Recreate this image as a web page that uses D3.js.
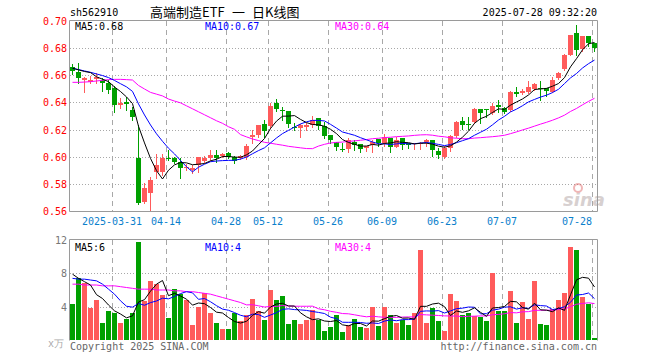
<!DOCTYPE html>
<html>
<head>
<meta charset="utf-8">
<script src="https://cdn.jsdelivr.net/npm/d3@7/dist/d3.min.js"></script>
<style>
    body { margin: 0; background: #fff; }
    svg { display: block; }
    text { font-family: "DejaVu Sans Mono", monospace; font-size: 10px; }
</style>
</head>
<body>
<div id="chart"></div>
<script>
// 交易日
const dates = [
    "2025-03-20","2025-03-21","2025-03-24","2025-03-25","2025-03-26","2025-03-27","2025-03-28","2025-03-31",
    "2025-04-01","2025-04-02","2025-04-03","2025-04-07","2025-04-08","2025-04-09","2025-04-10","2025-04-11",
    "2025-04-14","2025-04-15","2025-04-16","2025-04-17","2025-04-18","2025-04-21","2025-04-22","2025-04-23",
    "2025-04-24","2025-04-25","2025-04-28","2025-04-29","2025-04-30",
    "2025-05-06","2025-05-07","2025-05-08","2025-05-09","2025-05-12","2025-05-13","2025-05-14","2025-05-15",
    "2025-05-16","2025-05-19","2025-05-20","2025-05-21","2025-05-22","2025-05-23","2025-05-26","2025-05-27",
    "2025-05-28","2025-05-29","2025-05-30",
    "2025-06-03","2025-06-04","2025-06-05","2025-06-06","2025-06-09","2025-06-10","2025-06-11","2025-06-12",
    "2025-06-13","2025-06-16","2025-06-17","2025-06-18","2025-06-19","2025-06-20","2025-06-23","2025-06-24",
    "2025-06-25","2025-06-26","2025-06-27","2025-06-30",
    "2025-07-01","2025-07-02","2025-07-03","2025-07-04","2025-07-07","2025-07-08","2025-07-09","2025-07-10",
    "2025-07-11","2025-07-14","2025-07-15","2025-07-16","2025-07-17","2025-07-18","2025-07-21","2025-07-22",
    "2025-07-23","2025-07-24","2025-07-25","2025-07-28"
];

const open = [
    .6660,.6626,.6565,.6553,.6573,.6565,.6541,.6509,.6381,.6406,
    .6344,.5993,.5664,.5730,.5890,.5890,.5993,.5993,.5959,.5915,
    .5902,.5939,.5968,.5993,.6013,.6003,.6025,.6000,.5988,.5996,
    .6143,.6160,.6239,.6226,.6398,.6347,.6337,.6221,.6214,.6220,
    .6234,.6283,.6226,.6160,.6108,.6059,.6055,.6110,.6091,.6066,
    .6086,.6128,.6098,.6140,.6074,.6136,.6103,.6093,.6093,.6106,
    .6123,.6044,.6000,.6062,.6153,.6263,.6241,.6258,.6349,.6348,
    .6320,.6381,.6357,.6344,.6479,.6467,.6479,.6499,.6509,.6504,
    .6479,.6578,.6644,.6750,.6914,.6792,.6890,.6836
];
const high = [
    .6680,.6690,.6590,.6597,.6615,.6578,.6565,.6519,.6430,.6442,
    .6369,.6234,.5804,.5853,.6018,.6018,.6050,.6000,.5988,.5950,
    .5939,.6000,.6005,.6050,.6050,.6030,.6035,.6005,.6010,.6094,
    .6200,.6234,.6270,.6398,.6425,.6364,.6337,.6250,.6242,.6250,
    .6300,.6283,.6255,.6160,.6110,.6100,.6138,.6123,.6095,.6080,
    .6125,.6128,.6170,.6140,.6145,.6136,.6103,.6100,.6110,.6128,
    .6123,.6067,.6077,.6160,.6265,.6295,.6290,.6358,.6349,.6348,
    .6393,.6418,.6369,.6484,.6516,.6499,.6557,.6541,.6557,.6504,
    .6584,.6627,.6757,.6897,.6970,.6890,.6890,.6836
];
const low = [
    .6610,.6540,.6475,.6541,.6541,.6484,.6467,.6332,.6357,.6344,
    .6271,.5652,.5657,.5600,.5841,.5865,.5974,.5956,.5846,.5900,
    .5878,.5890,.5960,.5976,.5960,.5995,.5990,.5951,.5980,.5980,
    .6100,.6148,.6148,.6210,.6340,.6270,.6220,.6195,.6148,.6200,
    .6220,.6202,.6140,.6098,.6047,.6040,.6037,.6050,.6037,.6045,
    .6037,.6078,.6078,.6037,.6074,.6055,.6066,.6060,.6060,.6080,
    .6002,.5990,.5990,.6045,.6148,.6205,.6202,.6250,.6250,.6290,
    .6313,.6332,.6320,.6337,.6447,.6462,.6472,.6495,.6418,.6447,
    .6479,.6570,.6639,.6750,.6748,.6777,.6817,.6777
];
const close = [
    .6630,.6582,.6578,.6565,.6590,.6541,.6492,.6381,.6398,.6391,
    .6295,.5657,.5767,.5828,.5939,.5988,.5981,.5963,.5915,.5927,
    .5919,.6000,.5988,.6013,.5988,.6018,.6000,.5967,.6005,.6079,
    .6160,.6234,.6192,.6374,.6352,.6340,.6239,.6210,.6234,.6234,
    .6270,.6229,.6155,.6123,.6074,.6052,.6123,.6086,.6055,.6078,
    .6110,.6098,.6148,.6074,.6123,.6086,.6086,.6100,.6103,.6123,
    .6050,.6013,.6062,.6153,.6258,.6234,.6234,.6352,.6324,.6345,
    .6374,.6369,.6332,.6479,.6462,.6486,.6516,.6533,.6499,.6484,
    .6565,.6615,.6750,.6897,.6786,.6890,.6836,.6799
];
// 成交量 (万)
const volume = [
    4.3,7.4,6.8,3.9,4.8,2.0,3.5,3.3,2.0,2.5,
    3.2,11.8,4.7,7.1,6.7,5.4,2.7,6.1,5.5,4.8,
    1.8,4.0,5.7,3.2,2.0,1.3,1.3,3.3,2.3,3.0,
    4.9,3.5,2.4,6.0,4.8,5.3,1.9,2.4,1.9,2.4,
    3.6,2.4,1.1,1.6,3.0,1.0,1.8,2.5,1.6,1.5,
    4.0,1.7,4.0,3.0,2.0,2.4,1.8,3.2,10.8,2.0,
    3.8,2.3,1.1,5.5,4.7,3.0,3.2,2.9,2.8,2.3,
    8.0,3.5,3.5,5.9,2.0,4.6,2.5,7.1,1.9,1.8,
    3.7,4.8,5.6,11.2,10.8,5.2,4.3,0.3
];

// 窗口之前的均线值（图上读取）
const ma5Lead = [.6652,.6640,.6628,.6620];
const ma10Lead = [.6652,.6642,.6632,.6622,.6610,.6598,.6583,.6562,.6538];
const ma30Lead = [
    .6548,.6548,.6550,.6553,.6558,.6563,.6568,.6570,.6570,.6568,
    .6565,.6525,.6499,.6474,.6461,.6448,.6425,.6410,.6397,.6375,
    .6353,.6331,.6309,.6287,.6265,.6246,.6221,.6202,.6163
];
const vma5Lead = [7.9,7.4,7.0,6.6];
const vma10Lead = [7.4,7.3,7.3,7.2,7.1,6.7,6.1,5.5,4.7];
const vma30Lead = [
    6.7,6.7,6.6,6.6,6.6,6.5,6.5,6.5,6.4,6.3,
    6.2,6.1,6.1,6.1,6.0,6.0,6.0,5.9,5.9,5.8,
    5.8,5.7,5.6,5.5,5.3,5.1,4.9,4.7,4.5
];

const priceTicks = [0.56, 0.58, 0.60, 0.62, 0.64, 0.66, 0.68, 0.70];
const volTicks = [4, 8, 12];
const dateTicks = ["2025-03-31","2025-04-14","2025-04-28","2025-05-12","2025-05-26",
                   "2025-06-09","2025-06-23","2025-07-07","2025-07-28"];
const priceMaText = ["MA5:0.68", "MA10:0.67", "MA30:0.64"];
const volMaText = ["MA5:6", "MA10:4", "MA30:4"];
const maColors = ["#000", "#0000ff", "#ff00ff"];

const code = "sh562910";
const titleParts = ["高端制造ETF", "一", "日K线图"];
const stamp = "2025-07-28 09:32:20";

const UP = "#ff5b5b", DOWN = "#00a000", GRID = "#a8a8a8", BORDER = "#9a9a9a";

function movingAvg(values, n, lead) {
    return values.map(function (v, i) {
        if (i < n - 1) return lead[i];
        return d3.mean(values.slice(i - n + 1, i + 1));
    });
}

let svg = d3.select("#chart").append("svg")
    .attr("width", 660)
    .attr("height", 360);

let x = d3.scaleBand().domain(dates).range([70, 598]);
let yP = d3.scaleLinear().domain([0.56, 0.70]).range([211, 21]);
let yV = d3.scaleLinear().domain([0, 12]).range([340, 240]);

let bars = dates.map(function (d, i) {
    return { date: d, o: open[i], h: high[i], l: low[i], c: close[i], v: volume[i], up: close[i] >= open[i] };
});

// 网格
let grid = svg.append("g");
grid.selectAll(".hp").data(priceTicks.slice(1, -1)).enter().append("line")
    .attr("x1", 70).attr("x2", 597)
    .attr("y1", d => Math.round(yP(d)) + 0.5).attr("y2", d => Math.round(yP(d)) + 0.5)
    .attr("stroke", GRID).attr("stroke-dasharray", "1,2");
grid.selectAll(".hv").data(volTicks.slice(0, -1)).enter().append("line")
    .attr("x1", 70).attr("x2", 597)
    .attr("y1", d => Math.round(yV(d)) + 0.5).attr("y2", d => Math.round(yV(d)) + 0.5)
    .attr("stroke", GRID).attr("stroke-dasharray", "1,2");
[[21, 211], [240, 340]].forEach(function (r) {
    grid.selectAll(null).data(dateTicks).enter().append("line")
        .attr("x1", d => x(d) + 0.5).attr("x2", d => x(d) + 0.5)
        .attr("y1", r[0]).attr("y2", r[1])
        .attr("stroke", GRID).attr("stroke-dasharray", "5,4");
});

// 新浪水印
let wm = svg.append("g").attr("opacity", 0.45);
wm.append("text").attr("x", 563).attr("y", 206)
    .style("font-family", "DejaVu Sans").style("font-size", "18px")
    .style("font-style", "italic").style("font-weight", "bold")
    .attr("fill", "#a89898").text("sina");
wm.append("circle").attr("cx", 578).attr("cy", 188).attr("r", 4)
    .attr("fill", "none").attr("stroke", "#e06060").attr("stroke-width", 2);

// K线
let k = svg.append("g");
k.selectAll("line").data(bars).enter().append("line")
    .attr("x1", d => x(d.date) + 2.5).attr("x2", d => x(d.date) + 2.5)
    .attr("y1", d => Math.round(yP(d.h))).attr("y2", d => Math.round(yP(d.l)) + 1)
    .attr("stroke", d => d.up ? UP : DOWN);
k.selectAll("rect").data(bars).enter().append("rect")
    .attr("x", d => x(d.date))
    .attr("width", x.bandwidth() - 1)
    .attr("y", d => Math.round(yP(Math.max(d.o, d.c))))
    .attr("height", d => Math.max(1, Math.round(yP(Math.min(d.o, d.c))) - Math.round(yP(Math.max(d.o, d.c)))))
    .attr("fill", d => d.up ? UP : DOWN);

// 成交量柱
svg.append("g").selectAll("rect").data(bars).enter().append("rect")
    .attr("x", d => x(d.date))
    .attr("width", x.bandwidth() - 1)
    .attr("y", d => Math.round(yV(d.v)))
    .attr("height", d => 340 - Math.round(yV(d.v)))
    .attr("fill", d => d.up ? UP : DOWN);

// 均线
let cx = d => x(d) + 2.5;
let priceMa = [movingAvg(close, 5, ma5Lead), movingAvg(close, 10, ma10Lead), movingAvg(close, 30, ma30Lead)];
let volMa = [movingAvg(volume, 5, vma5Lead), movingAvg(volume, 10, vma10Lead), movingAvg(volume, 30, vma30Lead)];
[2, 1, 0].forEach(function (m) {
    svg.append("path")
        .attr("d", d3.line().x((d, i) => cx(dates[i])).y(d => yP(d))(priceMa[m]))
        .attr("fill", "none").attr("stroke", maColors[m]).attr("stroke-width", 1);
    svg.append("path")
        .attr("d", d3.line().x((d, i) => cx(dates[i])).y(d => yV(d))(volMa[m]))
        .attr("fill", "none").attr("stroke", maColors[m]).attr("stroke-width", 1);
});

// 边框
svg.append("path")
    .attr("d", "M69.5,211.5V20.5H597.5V211.5H69.5")
    .attr("fill", "none").attr("stroke", BORDER);
svg.append("path")
    .attr("d", "M69.5,340.5V239.5H597.5V340.5")
    .attr("fill", "none").attr("stroke", BORDER);

// 坐标文字
svg.selectAll(".py").data(priceTicks).enter().append("text")
    .attr("x", 67).attr("y", d => yP(d) + 4)
    .attr("text-anchor", "end").attr("fill", "#ff0000")
    .text(d => d.toFixed(2));
svg.selectAll(".vy").data(volTicks).enter().append("text")
    .attr("x", 67).attr("y", d => yV(d) + 4)
    .attr("text-anchor", "end").attr("fill", "#777")
    .text(d => d);
svg.append("text").attr("x", 64).attr("y", 347).attr("text-anchor", "end")
    .attr("fill", "#aaa").text("x万");

svg.selectAll(".dx").data(dateTicks).enter().append("text")
    .attr("x", function (d, i) {
        let w = (i === 0 ? 10 : 5) * 6.02;
        return Math.min(x(d), 592 - w / 2);
    })
    .attr("y", 225)
    .attr("text-anchor", "middle").attr("fill", "#0b80cc")
    .text((d, i) => i === 0 ? d : d.slice(5));

// 标题
svg.append("text").attr("x", 70).attr("y", 16).attr("fill", "#000").text(code);
[150, 232, 252].forEach(function (px, i) {
    svg.append("text").attr("x", px).attr("y", 17).attr("fill", "#000")
        .style("font-family", "'Noto Sans CJK SC', sans-serif").style("font-size", "13px")
        .text(titleParts[i]);
});
svg.append("text").attr("x", 597).attr("y", 16).attr("text-anchor", "end")
    .attr("fill", "#000").text(stamp);

// 均线图例
[75, 205, 335].forEach(function (px, m) {
    svg.append("text").attr("x", px).attr("y", 30).attr("fill", maColors[m]).text(priceMaText[m]);
    svg.append("text").attr("x", px).attr("y", 251).attr("fill", maColors[m]).text(volMaText[m]);
});

svg.append("text").attr("x", 70).attr("y", 350).attr("fill", "#666").text("Copyright 2025 SINA.COM");
svg.append("text").attr("x", 597).attr("y", 350).attr("text-anchor", "end")
    .attr("fill", "#666").text("http://finance.sina.com.cn");
</script>
</body>
</html>
